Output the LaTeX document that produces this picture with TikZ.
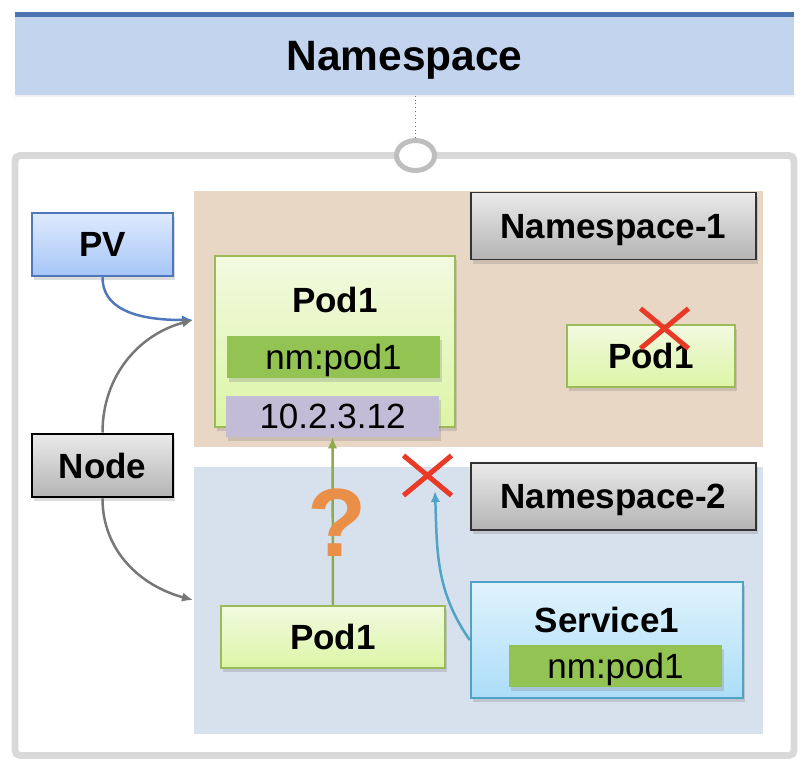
\documentclass[tikz,border=0pt]{standalone}
\usepackage{fontspec}
\setmainfont{Liberation Sans}
\usepackage{tikz}
\usetikzlibrary{shapes.misc,shapes.geometric,shadows,arrows.meta}
\tikzset{>={Latex[width=2.4mm,length=2.8mm]}}

\definecolor{hdrfill}{RGB}{195,213,238}
\definecolor{hdrline}{RGB}{76,115,177}
\definecolor{framegray}{RGB}{217,217,217}
\definecolor{hookgray}{RGB}{190,190,190}
\definecolor{nsonefill}{RGB}{232,215,197}
\definecolor{nstwofill}{RGB}{215,225,238}
\definecolor{taghi}{RGB}{234,234,234}
\definecolor{taglo}{RGB}{180,180,180}
\definecolor{pvhi}{RGB}{222,234,253}
\definecolor{pvlo}{RGB}{166,197,247}
\definecolor{pvline}{RGB}{79,120,188}
\definecolor{podhi}{RGB}{242,250,224}
\definecolor{podlo}{RGB}{220,245,166}
\definecolor{podline}{RGB}{155,187,89}
\definecolor{nmfill}{RGB}{146,195,83}
\definecolor{ipfill}{RGB}{195,188,214}
\definecolor{svchi}{RGB}{224,243,253}
\definecolor{svclo}{RGB}{172,221,248}
\definecolor{svcline}{RGB}{79,163,196}
\definecolor{linkgray}{RGB}{119,119,119}
\definecolor{linkgreen}{RGB}{140,170,78}
\definecolor{crossred}{RGB}{232,58,38}
\definecolor{askorange}{RGB}{233,143,71}

\tikzset{
  plainfont/.style={font=\fontsize{25.3}{30}\selectfont,text depth=0pt},
  boldfont/.style={font=\bfseries\fontsize{25.3}{30}\selectfont,text depth=0pt},
  softshadow/.style={drop shadow={opacity=0.28,shadow xshift=0.02in,shadow yshift=-0.04in}},
  nsarea/.style={shape=rectangle,inner sep=0pt,minimum width=5.69in},
  tagbox/.style={shape=rectangle,draw=black!80,line width=1pt,top color=taghi,bottom color=taglo,
    minimum width=2.85in,minimum height=0.67in,boldfont,softshadow},
  pvbox/.style={shape=rectangle,draw=pvline,line width=1.8pt,top color=pvhi,bottom color=pvlo,
    minimum width=1.41in,minimum height=0.63in,boldfont,softshadow},
  hostbox/.style={shape=rectangle,draw=black,line width=2pt,top color=taghi,bottom color=taglo,
    minimum width=1.41in,minimum height=0.63in,boldfont,softshadow},
  podbox/.style={shape=rectangle,draw=podline,line width=1pt,top color=podhi,bottom color=podlo,boldfont,softshadow},
  svcbox/.style={shape=rectangle,draw=svcline,line width=1.8pt,top color=svchi,bottom color=svclo,softshadow},
  labelbar/.style={shape=rectangle,minimum width=2.13in,minimum height=0.42in,plainfont,softshadow},
  crossmark/.style={cross out,draw=crossred,line width=3.6pt,minimum width=0.43in,minimum height=0.35in,inner sep=0pt},
  link/.style={->,line width=1.8pt},
}

\begin{document}
\begin{tikzpicture}

\useasboundingbox (0in,0in) rectangle (8.04in,-7.72in);

% header and outer frame
\path (4.045in,-0.535in) node [shape=rectangle,fill=hdrfill,minimum width=7.79in,minimum height=0.83in,
  font=\bfseries\fontsize{30.7}{36}\selectfont,text height=24.9pt,text depth=0pt,
  drop shadow={opacity=0.12,shadow xshift=0in,shadow yshift=-0.02in}] (hdr) {Namespace};
\draw [hdrline,line width=3.6pt] ([yshift=-0.025in]hdr.north west) -- ([yshift=-0.025in]hdr.north east);

\path (4.045in,-4.555in) node [shape=rectangle,draw=framegray,line width=5pt,rounded corners=0.05in,
  minimum width=7.79in,minimum height=6.0in] (frame) {};

\path (4.155in,-1.555in) node [shape=ellipse,draw=hookgray,line width=3.6pt,fill=white,
  minimum width=0.38in,minimum height=0.30in] (hook) {};
\draw [dotted,black!55,line width=0.7pt] (hook.north) -- (hook.north |- hdr.south);

% the two namespaces
\path (4.785in,-3.19in) node [nsarea,fill=nsonefill,minimum height=2.56in] (nsone) {};
\path (4.785in,-6.005in) node [nsarea,fill=nstwofill,minimum height=2.67in] (nstwo) {};

\path (6.135in,-2.26in) node [tagbox] (nsonetag) {Namespace-1};
\path (6.135in,-4.965in) node [tagbox] (nstwotag) {Namespace-2};

% left side
\path (1.025in,-2.445in) node [pvbox] (pv) {PV};
\path (1.025in,-4.655in) node [hostbox] (host) {Node};

% namespace-1 pods
\path (3.35in,-3.415in) node [podbox,minimum width=2.40in,minimum height=1.71in] (podone) {};
\path (3.35in,-3.0in) node [boldfont] (podonetitle) {Pod1};
\path (3.335in,-3.57in) node [labelbar,fill=nmfill] (podonenm) {nm:pod1};
\path (3.325in,-4.165in) node [labelbar,fill=ipfill,minimum height=0.41in] (podoneip) {10.2.3.12};

\path (6.51in,-3.56in) node [podbox,minimum width=1.68in,minimum height=0.62in] (podgone) {Pod1};
\path (6.645in,-3.285in) node [crossmark] (crossone) {};

% namespace-2 pod and service
\path (3.33in,-6.37in) node [podbox,minimum width=2.24in,minimum height=0.62in] (podtwo) {Pod1};

\path (6.07in,-6.40in) node [svcbox,minimum width=2.72in,minimum height=1.16in] (svc) {};
\path (6.07in,-6.20in) node [boldfont] (svctitle) {Service1};
\path (6.155in,-6.66in) node [labelbar,fill=nmfill] (svcnm) {nm:pod1};

\path (4.275in,-4.755in) node [crossmark] (crosstwo) {};

% connectors
\coordinate (podin) at (1.93in,-3.20in);
\coordinate (podtwoin) at (1.93in,-6.00in);
\coordinate (svcend) at (4.35in,-4.91in);

\draw [link,pvline] (pv.south) to[out=-90,in=180] (podin);
\draw [link,linkgray] (host.north) to[out=90,in=195] (podin);
\draw [link,linkgray] (host.south) to[out=-90,in=165] (podtwoin);
\draw [link,linkgreen] (podtwo.north) -- (podoneip.south);
\draw [link,svcline] (svc.west) to[out=125,in=-88] (svcend);

\path (3.375in,-5.23in) node [inner sep=0pt,text=askorange,font=\bfseries\fontsize{70}{80}\selectfont] (ask) {?};

\end{tikzpicture}
\end{document}
